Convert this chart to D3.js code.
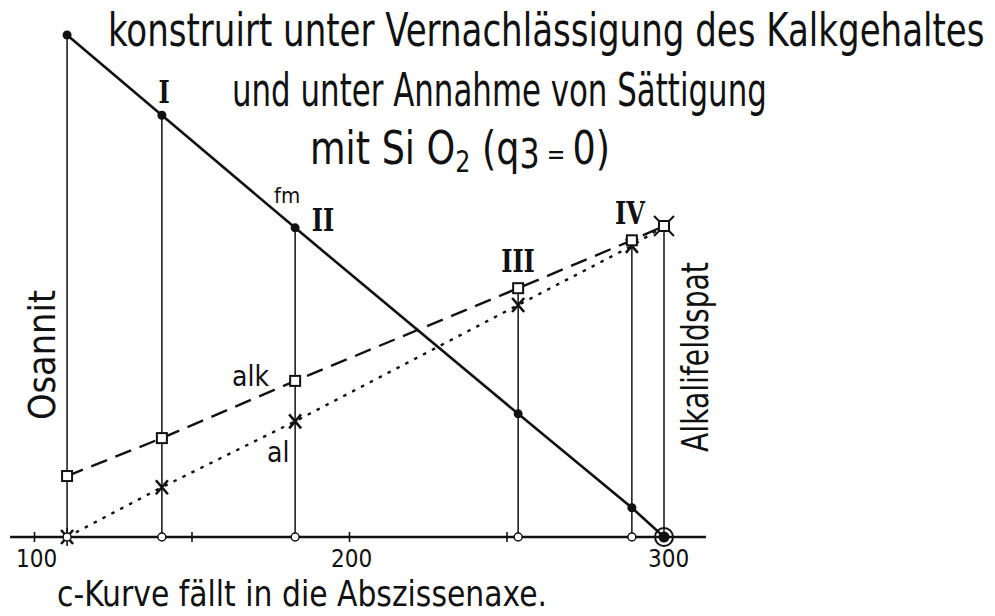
<!DOCTYPE html>
<html>
<head>
<meta charset="utf-8">
<script src="https://cdn.jsdelivr.net/npm/d3@7"></script>
<style>
  body { margin: 0; background: #fff; }
  svg { display: block; }
  .lbl { font-family: "DejaVu Sans Condensed", "Liberation Sans Narrow", "DejaVu Sans", sans-serif; fill: #111; }
  .roman { font-family: "DejaVu Serif", "Liberation Serif", serif; font-weight: bold; fill: #111; }
</style>
</head>
<body>
<script>
// columns: Osannit, I, II, III, IV, Alkalifeldspat
var names = ["Osannit", "I", "II", "III", "IV", "Alkalifeldspat"];
var cx = [110.5, 140.6, 182.9, 253.7, 289.8, 300];
var fm = [80.7, 67.8, 49.7, 19.8, 4.7, 0];
var alk = [9.8, 15.9, 25.1, 40.0, 47.7, 50];
var al = [0, 8.0, 18.6, 37.3, 46.8, 50];
var tickVals = [100, 150, 200, 250, 300];
var tickLabels = [100, 200, 300];

var width = 995, height = 616;
var rows = names.map((n, i) => ({name: n, x: cx[i], fm: fm[i], alk: alk[i], al: al[i]}));

var x = d3.scaleLinear().domain([100, 300]).range([34, 664]);
var y = d3.scaleLinear().domain([0, 50]).range([537, 226]);

var svg = d3.select("body").append("svg")
    .attr("width", width)
    .attr("height", height);

// squeeze a text horizontally so it spans w pixels from (px, py)
function fit(sel, px, py, w, rot) {
    var n = sel.node().getComputedTextLength();
    sel.attr("transform", `translate(${px},${py})` + (rot ? ` rotate(${rot})` : "") + ` scale(${w / n},1)`);
    return sel;
}

// title lines
fit(svg.append("text").attr("class", "lbl")
    .attr("font-size", 46)
    .text("konstruirt unter Vernachlässigung des Kalkgehaltes"), 108, 46, 877);
fit(svg.append("text").attr("class", "lbl")
    .attr("font-size", 46)
    .text("und unter Annahme von Sättigung"), 232, 106, 535);
var t3 = svg.append("text").attr("class", "lbl")
    .attr("font-size", 46);
t3.append("tspan").text("mit Si O");
t3.append("tspan").attr("dy", 8).attr("font-size", 30).text("2");
t3.append("tspan").attr("dy", -8).text(" (q");
t3.append("tspan").attr("dy", 4).attr("font-size", 40).text("3");
t3.append("tspan").attr("dy", -4).attr("font-size", 28).text(" = ");
t3.append("tspan").text("0)");
fit(t3, 310, 164, 300);

// vertical drop lines
svg.append("g").selectAll("line")
    .data(rows)
    .join("line")
    .attr("x1", d => x(d.x)).attr("x2", d => x(d.x))
    .attr("y1", y(0))
    .attr("y2", d => y(Math.max(d.fm, d.alk, d.al)))
    .attr("stroke", "#111").attr("stroke-width", 1.5);

// abscissa
var axis = d3.axisBottom(x)
    .tickValues(tickVals)
    .tickSize(0)
    .tickFormat(d => tickLabels.includes(d) ? d : "");
var gx = svg.append("g")
    .attr("transform", `translate(0,${y(0)})`)
    .call(axis);
gx.select(".domain").remove();
gx.selectAll(".tick line")
    .filter(d => d < 300)
    .attr("y1", -5).attr("y2", 5)
    .attr("stroke", "#111").attr("stroke-width", 1.6);
gx.selectAll(".tick text")
    .attr("class", "lbl")
    .attr("font-size", 24)
    .attr("y", 13).attr("dy", "0.71em")
    .attr("dx", d => d === 300 ? 4 : 2);
svg.append("line")
    .attr("x1", x(92.4)).attr("x2", x(313.3))
    .attr("y1", y(0)).attr("y2", y(0))
    .attr("stroke", "#111").attr("stroke-width", 2.6);

// curves
var line = key => d3.line().x(d => x(d.x)).y(d => y(d[key]))(rows);
svg.append("path").attr("d", line("fm"))
    .attr("fill", "none").attr("stroke", "#111").attr("stroke-width", 2.6);
svg.append("path").attr("d", line("alk"))
    .attr("fill", "none").attr("stroke", "#111").attr("stroke-width", 2.4)
    .attr("stroke-dasharray", "17,9");
svg.append("path").attr("d", line("al"))
    .attr("fill", "none").attr("stroke", "#111").attr("stroke-width", 2.4)
    .attr("stroke-dasharray", "3.5,6.5");

// base circles on the abscissa
svg.append("g").selectAll("circle")
    .data(rows.slice(1, 5))
    .join("circle")
    .attr("cx", d => x(d.x)).attr("cy", y(0)).attr("r", 4)
    .attr("fill", "#fff").attr("stroke", "#111").attr("stroke-width", 1.5);

// fm points
svg.append("g").selectAll("circle")
    .data(rows)
    .join("circle")
    .attr("cx", d => x(d.x)).attr("cy", d => y(d.fm)).attr("r", d => d.fm === 0 ? 5.5 : 4.5)
    .attr("fill", "#111");
var last = rows[rows.length - 1];
svg.append("circle")
    .attr("cx", x(last.x)).attr("cy", y(0)).attr("r", 9)
    .attr("fill", "none").attr("stroke", "#111").attr("stroke-width", 2);

// al crosses
var cross = svg.append("g").selectAll("g")
    .data(rows.slice(0, 5))
    .join("g")
    .attr("transform", d => `translate(${x(d.x)},${y(d.al)})`);
cross.append("path")
    .attr("d", "M-6,-7L6,7M-6,7L6,-7")
    .attr("stroke", "#111").attr("stroke-width", 2.6);
// star at Osannit base
svg.append("path")
    .attr("transform", `translate(${x(rows[0].x)},${y(0)})`)
    .attr("d", "M0,-9L0,9M-9,0L9,0")
    .attr("stroke", "#111").attr("stroke-width", 1.6);
svg.append("circle")
    .attr("cx", x(rows[0].x)).attr("cy", y(0)).attr("r", 4)
    .attr("fill", "#fff").attr("stroke", "#111").attr("stroke-width", 1.5);

// alk squares
svg.append("g").selectAll("rect")
    .data(rows.slice(0, 5))
    .join("rect")
    .attr("x", d => x(d.x) - 5).attr("y", d => y(d.alk) - 5)
    .attr("width", 10).attr("height", 10)
    .attr("fill", "#fff").attr("stroke", "#111").attr("stroke-width", 2);

// Alkalifeldspat end mark: square crossed
var endMark = svg.append("g")
    .attr("transform", `translate(${x(last.x)},${y(last.alk)})`);
endMark.append("path")
    .attr("d", "M-10,-10L10,10M-10,10L10,-10")
    .attr("stroke", "#111").attr("stroke-width", 2);
endMark.append("rect")
    .attr("x", -5).attr("y", -5).attr("width", 10).attr("height", 10)
    .attr("fill", "#fff").attr("stroke", "#111").attr("stroke-width", 2);

// roman numerals over the samples
var romanPos = [null, [164, 103], [323, 231], [518, 272], [630, 224], null];
svg.append("g").selectAll("text")
    .data(rows.filter((d, i) => romanPos[i]))
    .join("text")
    .attr("class", "roman")
    .attr("text-anchor", "middle")
    .attr("font-size", 32)
    .attr("transform", d => {
        var p = romanPos[names.indexOf(d.name)];
        return `translate(${p[0]},${p[1]}) scale(0.75,1)`;
    })
    .text(d => d.name);

// curve labels
svg.append("text").attr("class", "lbl").attr("x", 274).attr("y", 203)
    .attr("font-size", 22).text("fm");
svg.append("text").attr("class", "lbl").attr("x", 232).attr("y", 386)
    .attr("font-size", 28).text("alk");
svg.append("text").attr("class", "lbl").attr("x", 267).attr("y", 462)
    .attr("font-size", 28).text("al");

// end members, rotated
fit(svg.append("text").attr("class", "lbl")
    .attr("font-size", 38)
    .text("Osannit"), 55, 420, 130, -90);
fit(svg.append("text").attr("class", "lbl")
    .attr("font-size", 38)
    .text("Alkalifeldspat"), 708, 452, 190, -90);

// caption
fit(svg.append("text").attr("class", "lbl")
    .attr("font-size", 36)
    .text("c-Kurve fällt in die Abszissenaxe."), 57, 606, 490);
</script>
</body>
</html>
